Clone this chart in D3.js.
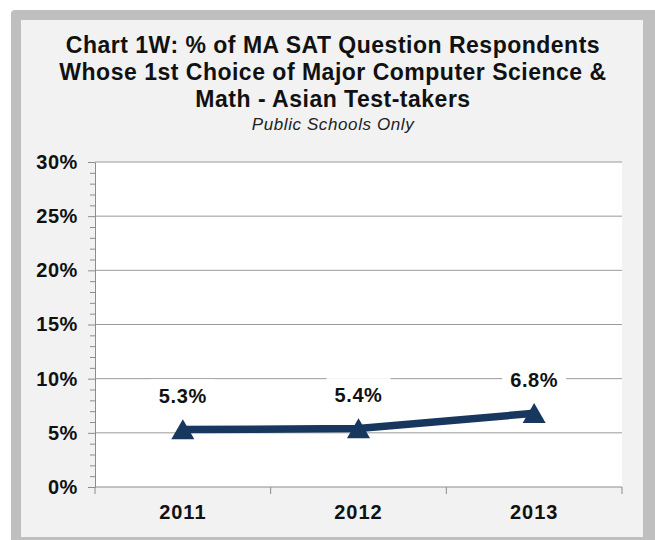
<!DOCTYPE html>
<html>
<head>
<meta charset="utf-8">
<script src="https://cdn.jsdelivr.net/npm/d3@7"></script>
<style>
body { margin: 0; background: #fff; }
svg { display: block; font-family: "Liberation Sans", Arial, sans-serif; }
</style>
</head>
<body>
<div id="chart"></div>
<script>
// data
const years = ["2011", "2012", "2013"];
const values = [5.3, 5.4, 6.8];
const yTicks = [0, 5, 10, 15, 20, 25, 30];
const minorTicks = d3.range(0, 31, 1);
const titleLines = ["Chart 1W: % of MA SAT Question Respondents",
  "Whose 1st Choice of Major Computer Science &",
  "Math - Asian  Test-takers"];
const subtitle = "Public Schools Only";

const W = 655, H = 540;
const plot = { left: 95, right: 622, top: 162, bottom: 487 };

const svg = d3.select("#chart").append("svg")
  .attr("width", W).attr("height", H);

// grey frame + light panel
svg.append("rect").attr("x", 11).attr("y", 10).attr("width", 660).attr("height", 560)
  .attr("rx", 4).attr("fill", "#bfbfbf");
svg.append("rect").attr("x", 21).attr("y", 20).attr("width", 622).attr("height", 517)
  .attr("fill", "#f2f2f2");

// title
svg.append("g").selectAll("text").data(titleLines).enter().append("text")
  .attr("x", 333).attr("y", (d, i) => 53 + i * 27)
  .attr("text-anchor", "middle")
  .attr("font-size", "23px").attr("font-weight", "bold").attr("fill", "#111")
  .attr("letter-spacing", "0.5")
  .text(d => d);
svg.append("text").attr("x", 333).attr("y", 130)
  .attr("text-anchor", "middle").attr("font-size", "17px")
  .attr("font-style", "italic").attr("fill", "#222").attr("letter-spacing", "0.6")
  .text(subtitle);

const x = d3.scaleBand().domain(years).range([plot.left, plot.right]);
const y = d3.scaleLinear().domain([0, 30]).range([plot.bottom, plot.top]);
const cx = d => x(d) + x.bandwidth() / 2;

svg.append("rect").attr("x", plot.left).attr("y", plot.top)
  .attr("width", plot.right - plot.left).attr("height", plot.bottom - plot.top)
  .attr("fill", "#fff");

// gridlines
svg.append("g").selectAll("line").data(yTicks.filter(d => d > 0)).enter().append("line")
  .attr("x1", plot.left).attr("x2", plot.right)
  .attr("y1", d => y(d)).attr("y2", d => y(d))
  .attr("stroke", "#9a9a9a").attr("stroke-width", 1);

// minor ticks on the y axis
svg.append("g").attr("transform", `translate(${plot.left},0)`)
  .call(d3.axisLeft(y).tickValues(minorTicks.filter(d => d % 5 !== 0)).tickSize(5).tickFormat(""))
  .call(g => g.select(".domain").remove())
  .call(g => g.selectAll("line").attr("stroke", "#8c8c8c"));

// major y axis
svg.append("g").attr("transform", `translate(${plot.left},0)`)
  .call(d3.axisLeft(y).tickValues(yTicks).tickSize(7).tickSizeOuter(0).tickPadding(10)
    .tickFormat(d => d + "%"))
  .call(g => g.select(".domain").attr("stroke", "#8c8c8c"))
  .call(g => g.selectAll("line").attr("stroke", "#8c8c8c"))
  .call(g => g.selectAll("text").attr("font-size", "20px").attr("font-weight", "bold")
    .attr("fill", "#111").attr("letter-spacing", "0.6")
    .attr("font-family", "Liberation Sans, Arial, sans-serif"));

// x axis, ticks at band edges
const edges = years.map(d => x(d)).concat([plot.right]);
const xg = svg.append("g").attr("transform", `translate(0,${plot.bottom})`);
xg.append("line").attr("x1", plot.left).attr("x2", plot.right)
  .attr("stroke", "#8c8c8c");
xg.selectAll(".edge").data(edges).enter().append("line")
  .attr("x1", d => d).attr("x2", d => d).attr("y1", 0).attr("y2", 7)
  .attr("stroke", "#8c8c8c");
xg.selectAll("text").data(years).enter().append("text")
  .attr("x", cx).attr("y", 32).attr("text-anchor", "middle")
  .attr("font-size", "20px").attr("font-weight", "bold").attr("fill", "#111")
  .attr("letter-spacing", "1")
  .text(d => d);

const pts = years.map((d, i) => ({ year: d, v: values[i] }));

// line
svg.append("path").datum(pts)
  .attr("d", d3.line().x(d => cx(d.year)).y(d => y(d.v)))
  .attr("fill", "none").attr("stroke", "#17375e").attr("stroke-width", 7.5);

// triangle markers
svg.append("g").selectAll("path").data(pts).enter().append("path")
  .attr("transform", d => `translate(${cx(d.year)},${y(d.v) + 3})`)
  .attr("d", d3.symbol().type(d3.symbolTriangle).size(230))
  .attr("fill", "#17375e");

// data labels with white boxes
const lab = svg.append("g").selectAll("g").data(pts).enter().append("g");
lab.append("rect")
  .attr("x", d => cx(d.year) - 32).attr("width", 64)
  .attr("y", d => y(d.v) - 50.37).attr("height", 30)
  .attr("fill", "#fff");
lab.append("text")
  .attr("x", d => cx(d.year)).attr("y", d => y(d.v) - 26.5)
  .attr("text-anchor", "middle")
  .attr("font-size", "20px").attr("font-weight", "bold").attr("fill", "#111")
  .attr("letter-spacing", "0.6")
  .text(d => d.v.toFixed(1) + "%");
</script>
</body>
</html>
